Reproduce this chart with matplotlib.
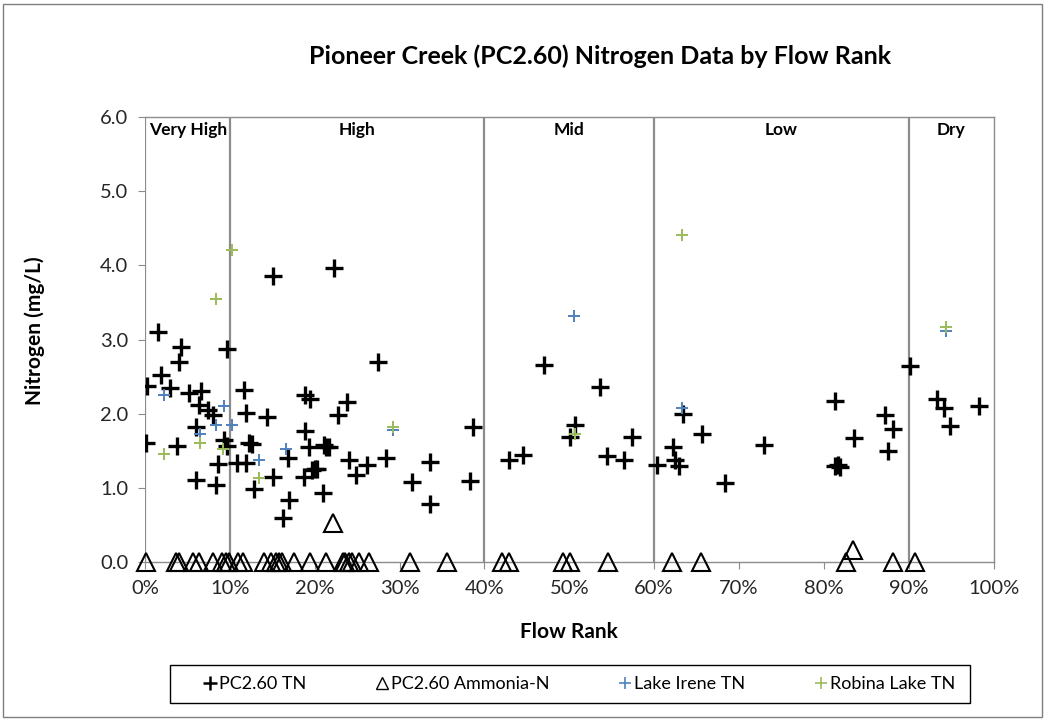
import matplotlib
matplotlib.use("Agg")
import matplotlib.pyplot as plt
from matplotlib.ticker import FuncFormatter
from matplotlib.lines import Line2D
from matplotlib.patches import Rectangle

plt.rcParams['font.family'] = ['Lato', 'DejaVu Sans']

# PC2.60 TN (flow rank %, mg/L)
tn_x = [1.5, 4.2, 4.0, 1.9, 0.2, 3.0, 5.2, 6.6, 6.4, 7.4, 8.0, 9.7, 11.7, 11.9, 14.4,
        6.0, 0.1, 3.8, 9.3, 9.7, 12.3, 12.6, 8.6, 10.8, 11.9, 6.0, 8.4, 12.8, 15.1,
        16.8, 17.0, 16.3, 18.8, 19.5, 18.8, 19.3, 21.1, 19.7, 20.0, 18.7, 21.0,
        15.1, 22.3, 27.4, 23.8, 22.7, 21.3, 21.7, 24.0, 26.2, 24.9, 28.4, 20.3,
        31.5, 33.6, 33.6, 38.7, 38.3,
        47.0, 53.6, 50.7, 50.1, 57.4, 42.9, 44.5, 54.4, 56.5, 60.3,
        63.4, 65.6, 62.2, 62.5, 62.9, 68.4, 72.9, 81.3, 81.3, 83.5, 81.7, 81.9,
        87.2, 88.2, 87.5, 90.2, 93.3, 94.2, 94.9, 98.3]
tn_y = [3.10, 2.90, 2.70, 2.52, 2.37, 2.34, 2.28, 2.30, 2.12, 2.05, 1.98, 2.87, 2.32, 2.01, 1.95,
        1.82, 1.60, 1.56, 1.64, 1.56, 1.60, 1.59, 1.32, 1.33, 1.33, 1.11, 1.04, 0.99, 1.15,
        1.40, 0.83, 0.60, 2.25, 2.20, 1.76, 1.55, 1.58, 1.24, 1.25, 1.15, 0.93,
        3.85, 3.97, 2.70, 2.16, 1.98, 1.55, 1.55, 1.38, 1.31, 1.17, 1.40, 1.25,
        1.08, 1.35, 0.78, 1.82, 1.09,
        2.66, 2.36, 1.85, 1.69, 1.69, 1.37, 1.44, 1.43, 1.37, 1.31,
        2.00, 1.72, 1.55, 1.38, 1.29, 1.07, 1.58, 2.17, 1.29, 1.67, 1.31, 1.28,
        1.98, 1.80, 1.50, 2.64, 2.20, 2.07, 1.83, 2.10]

# PC2.60 Ammonia-N
nh3_x = [0.1, 3.6, 4.0, 5.6, 6.4, 8.0, 9.1, 9.5, 9.9, 10.9, 11.5, 14.0, 14.8, 15.4, 15.8,
         16.2, 17.6, 19.4, 21.3, 23.3, 23.6, 24.0, 24.4, 25.2, 26.4, 31.2, 35.6, 42.1,
         42.9, 49.3, 50.1, 54.6, 62.1, 65.5, 82.6, 88.2, 90.7, 22.2, 83.4]
nh3_y = [0.0] * 37 + [0.53, 0.16]

# Lake Irene TN
irene_x = [2.2, 9.3, 8.4, 10.3, 6.5, 16.6, 13.4, 29.2, 50.6, 63.3, 94.4]
irene_y = [2.25, 2.10, 1.85, 1.85, 1.73, 1.53, 1.37, 1.78, 3.32, 2.07, 3.12]

# Robina Lake TN
robina_x = [8.4, 2.2, 6.5, 9.2, 13.4, 10.3, 29.2, 50.7, 63.3, 94.4]
robina_y = [3.54, 1.46, 1.60, 1.53, 1.13, 4.21, 1.82, 1.73, 4.41, 3.17]

zone_edges = [0, 10, 40, 60, 90]
zone_names = ["Very High", "High", "Mid", "Low", "Dry"]
zone_label_x = [0.5, 25, 50, 75, 95]

blue = '#4F81BD'
green = '#9BBB59'
grey = '#8C8C8C'

fig = plt.figure(figsize=(10.47, 7.21), dpi=100)
ax = fig.add_axes([0.1385, 0.2205, 0.8105, 0.6172])

for e in zone_edges:
    ax.axvline(e, color=grey, lw=1.6, zorder=1)

ax.plot(tn_x, tn_y, ls='none', marker='+', ms=13, mew=2.4, color='black', zorder=3)
ax.plot(nh3_x, nh3_y, ls='none', marker='^', ms=13, mew=1.5, mfc='none', mec='black',
        zorder=3, clip_on=False)
ax.plot(irene_x, irene_y, ls='none', marker='+', ms=8, mew=1.4, color=blue, zorder=4)
ax.plot(robina_x, robina_y, ls='none', marker='+', ms=8, mew=1.4, color=green, zorder=4)

for name, lx in zip(zone_names, zone_label_x):
    ha = 'left' if lx < 5 else 'center'
    ax.text(lx, 5.82, name, ha=ha, va='center', fontsize=12.5, fontweight='bold')

ax.set_xlim(0, 100)
ax.set_ylim(0, 6)
ax.set_xticks(range(0, 101, 10))
ax.set_yticks([0, 1, 2, 3, 4, 5, 6])
ax.xaxis.set_major_formatter(FuncFormatter(lambda v, p: "{:.0f}%".format(v)))
ax.yaxis.set_major_formatter(FuncFormatter(lambda v, p: "{:.1f}".format(v)))
ax.tick_params(axis='both', labelsize=14.5, color=grey, labelcolor='#262626',
               length=5, direction='out')
ax.tick_params(axis='x', pad=8)
ax.tick_params(axis='y', pad=7)
for s in ['left', 'bottom', 'top', 'right']:
    ax.spines[s].set_color(grey)
    ax.spines[s].set_linewidth(1.0)
ax.spines['left'].set_visible(False)

ax.set_xlabel('Flow Rank', fontsize=15, fontweight='bold', labelpad=18)
ax.set_ylabel('Nitrogen (mg/L)', fontsize=15, fontweight='bold')
ax.yaxis.set_label_coords(-0.118, 0.52)
fig.text(0.573, 0.922, 'Pioneer Creek (PC2.60) Nitrogen Data by Flow Rank',
         ha='center', va='center', fontsize=18, fontweight='bold')

handles = [
    Line2D([], [], ls='none', marker='+', ms=10, mew=1.8, color='black'),
    Line2D([], [], ls='none', marker='^', ms=9, mew=1, mfc='none', mec='black'),
    Line2D([], [], ls='none', marker='+', ms=9, mew=1.2, color=blue),
    Line2D([], [], ls='none', marker='+', ms=9, mew=1.2, color=green),
]
labels = ['PC2.60 TN', 'PC2.60 Ammonia-N', 'Lake Irene TN', 'Robina Lake TN']
fig.legend(handles, labels, loc='center', bbox_to_anchor=(0.554, 0.0513), ncol=4,
           fontsize=13, frameon=False, handlelength=0.6, handletextpad=0.2,
           columnspacing=3.9, borderpad=0, borderaxespad=0)

# legend box and outer chart border
fig.patches.append(Rectangle((170 / 1047, 1 - 703 / 721), 800 / 1047, 38 / 721,
                             transform=fig.transFigure, fill=False,
                             edgecolor='black', lw=1.0))
fig.patches.append(Rectangle((0.003, 0.005), 0.992, 0.99, transform=fig.transFigure,
                             fill=False, edgecolor='#7F7F7F', lw=1.0))

fig.savefig('out.png', dpi=100)
